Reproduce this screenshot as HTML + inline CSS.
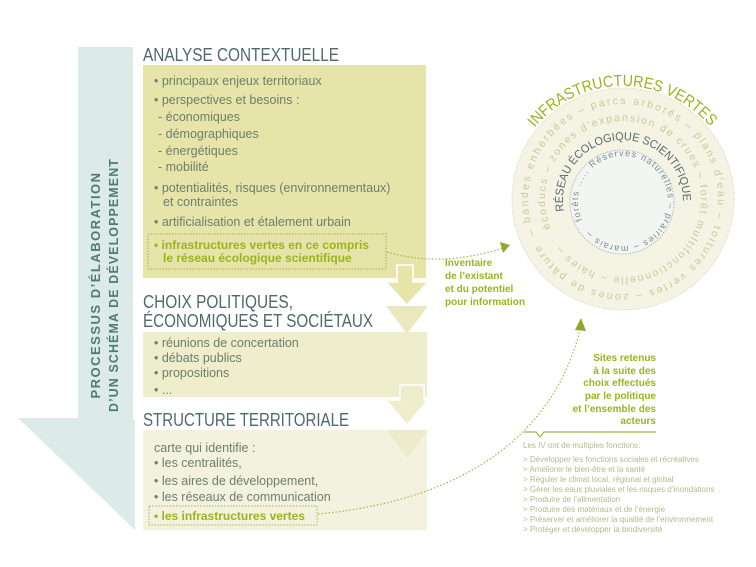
<!DOCTYPE html>
<html><head><meta charset="utf-8"><style>
html,body{margin:0;padding:0;background:#fff;}
svg{display:block;}
.t{font-family:"Liberation Sans Narrow","Liberation Sans",sans-serif;}
.h{font-family:"Liberation Sans Narrow","Liberation Sans",sans-serif;font-size:18px;fill:#4f6a67;}
.b{font-family:"Liberation Sans",sans-serif;font-size:12.5px;fill:#6e7e6c;}
.g{font-family:"Liberation Sans",sans-serif;font-size:12px;fill:#9cb31f;font-weight:bold;}
.gr{font-family:"Liberation Sans",sans-serif;font-size:10px;fill:#9cb31f;font-weight:bold;}
.l{font-family:"Liberation Sans Narrow","Liberation Sans",sans-serif;font-size:8px;fill:#b3bb8c;}
</style></head><body>
<svg width="756" height="567" viewBox="0 0 756 567" xmlns="http://www.w3.org/2000/svg">
<polygon points="78,47 133,47 133,420 135,420 135,530 18,418 78,418" fill="#dcebe7"/>
<text class="t" transform="translate(100,285) rotate(-90)" text-anchor="middle" font-size="13" font-weight="bold" fill="#4f7a76" letter-spacing="1.5">PROCESSUS D’ÉLABORATION</text>
<text class="t" transform="translate(118,285) rotate(-90)" text-anchor="middle" font-size="13" font-weight="bold" fill="#4f7a76" letter-spacing="1.2" textLength="254" lengthAdjust="spacingAndGlyphs">D’UN SCHÉMA DE DÉVELOPPEMENT</text>

<text class="h" x="143" y="61" textLength="196" lengthAdjust="spacingAndGlyphs">ANALYSE CONTEXTUELLE</text>
<rect x="143" y="65" width="283" height="213" fill="#e6e4a9"/>
<g class="b">
<text x="154" y="85">• principaux enjeux territoriaux</text>
<text x="154" y="104">• perspectives et besoins :</text>
<text x="158" y="121">- économiques</text>
<text x="158" y="138">- démographiques</text>
<text x="158" y="155">- énergétiques</text>
<text x="158" y="171">- mobilité</text>
<text x="154" y="192">• potentialités, risques (environnementaux)</text>
<text x="163" y="206">et contraintes</text>
<text x="154" y="226">• artificialisation et étalement urbain</text>
</g>
<rect x="148" y="234" width="238" height="35" fill="none" stroke="#a8b04a" stroke-width="1" stroke-dasharray="1.5,1.5"/>
<text class="g" x="154" y="249">• infrastructures vertes en ce compris</text>
<text class="g" x="163" y="262">le réseau écologique scientifique</text>

<polygon points="397,265 413,265 413,282 428,282 407,305 386,282 397,282" fill="#e6e4a9" stroke="#fff" stroke-width="1.5"/>
<polygon points="386,306 428,306 407,334" fill="#eae8bf"/>

<text class="h" x="143" y="308" textLength="150" lengthAdjust="spacingAndGlyphs">CHOIX POLITIQUES,</text>
<text class="h" x="143" y="327" textLength="230" lengthAdjust="spacingAndGlyphs">ÉCONOMIQUES ET SOCIÉTAUX</text>
<rect x="143" y="332" width="284" height="65" fill="#eeedcc"/>
<g class="b">
<text x="154" y="347">• réunions de concertation</text>
<text x="154" y="362">• débats publics</text>
<text x="154" y="377">• propositions</text>
<text x="154" y="394">• ...</text>
</g>
<polygon points="400,385 424,385 424,400 428,400 407,425 386,400 400,400" fill="#eeedcc" stroke="#fff" stroke-width="1.5"/>

<text class="h" x="143" y="426" textLength="206" lengthAdjust="spacingAndGlyphs">STRUCTURE TERRITORIALE</text>
<rect x="143" y="430" width="284" height="100" fill="#f3f2df"/>
<polygon points="387,430 428,430 407,458" fill="#ecebcc"/>
<g class="b">
<text x="154" y="452">carte qui identifie :</text>
<text x="154" y="467">• les centralités,</text>
<text x="154" y="485">• les aires de développement,</text>
<text x="154" y="501">• les réseaux de communication</text>
</g>
<rect x="149" y="506" width="168" height="19" fill="none" stroke="#a8b04a" stroke-width="1" stroke-dasharray="1.5,1.5"/>
<text class="g" x="154" y="520">• les infrastructures vertes</text>

<path d="M387,252 C420,262 460,262 503,248" fill="none" stroke="#a8b04a" stroke-width="1.2" stroke-dasharray="1.5,2"/>
<polygon points="510,245 500,242 503,253" fill="#8fa82a"/>
<path d="M318,514 C470,500 555,430 580,330" fill="none" stroke="#a8b04a" stroke-width="1.2" stroke-dasharray="1.5,2"/>
<polygon points="581,318 575,330 586,331" fill="#8fa82a"/>

<g class="gr">
<text x="445" y="266">Inventaire</text>
<text x="445" y="279">de l’existant</text>
<text x="445" y="292">et du potentiel</text>
<text x="445" y="305">pour information</text>
</g>
<g class="gr" text-anchor="end" font-size="10.5">
<text x="656" y="361">Sites retenus</text>
<text x="656" y="374">à la suite des</text>
<text x="656" y="386">choix effectués</text>
<text x="656" y="399">par le politique</text>
<text x="656" y="412">et l’ensemble des</text>
<text x="656" y="424">acteurs</text>
</g>
<polyline points="524,432 536,432 540,437 544,432 656,432" fill="none" stroke="#a8b04a" stroke-width="1.2"/>
<g class="l">
<text x="523" y="448">Les IV ont de multiples fonctions:</text>
<text x="523" y="462">&gt; Développer les fonctions sociales et récréatives</text>
<text x="523" y="472">&gt; Améliorer le bien-être et la santé</text>
<text x="523" y="482">&gt; Réguler le climat local, régional et global</text>
<text x="523" y="492">&gt; Gérer les eaux pluviales et les risques d’inondations</text>
<text x="523" y="502">&gt; Produire de l’alimentation</text>
<text x="523" y="512">&gt; Produire des matériaux et de l’énergie</text>
<text x="523" y="522">&gt; Préserver et améliorer la qualité de l’environnement</text>
<text x="523" y="532">&gt; Protéger et développer la biodiversité</text>
</g>

<defs>
<path id="c95" d="M528,199 A95,95 0 1 1 718,199 A95,95 0 1 1 528,199"/>
<path id="c78" d="M545,199 A78,78 0 1 1 701,199 A78,78 0 1 1 545,199"/>
<path id="c60" d="M564,211 A60,60 0 1 1 682,211"/>
<path id="c45" d="M578,201 A45,45 0 1 1 668,201 A45,45 0 1 1 578,201"/>
<path id="ct" d="M530,134 A114,114 0 0 1 716,134"/>
</defs>
<circle cx="623" cy="199" r="111" fill="#f4f3e4" stroke="#d2d1b2" stroke-width="1" stroke-dasharray="1,1.5"/>
<g class="t" font-size="10.5" fill="#cac99b" letter-spacing="0.8">
<text transform="rotate(-22 623 199)"><textPath href="#c95" textLength="585">– bandes  enherbées  –  parcs  arborés  –  plans  d’eau  –  toitures  vertes  –  zones  de  pâture</textPath></text>
<text transform="rotate(-22 623 199)"><textPath href="#c78" textLength="470">écoducs  –  zones  d’expansion  de  crues  –  forêt  multifonctionnelle  –  haies  –</textPath></text>
</g>
<circle cx="622" cy="202" r="52" fill="#f2f5f2" stroke="#9aa7a6" stroke-width="1" stroke-dasharray="1,1.5"/>
<text class="t" font-size="11.5" fill="#5a6b6b"><textPath href="#c60" textLength="200" lengthAdjust="spacingAndGlyphs">RÉSEAU ÉCOLOGIQUE SCIENTIFIQUE</textPath></text>
<text class="t" font-size="9" fill="#7d8c8c" letter-spacing="0.8" transform="rotate(-25 623 201)"><textPath href="#c45" textLength="270">forêts ..... Réserves naturelles – prairies – marais –</textPath></text>
<text class="t" font-size="16" fill="#9cb31f"><textPath href="#ct" startOffset="8" textLength="200" lengthAdjust="spacingAndGlyphs">INFRASTRUCTURES VERTES</textPath></text>
</svg>
</body></html>
